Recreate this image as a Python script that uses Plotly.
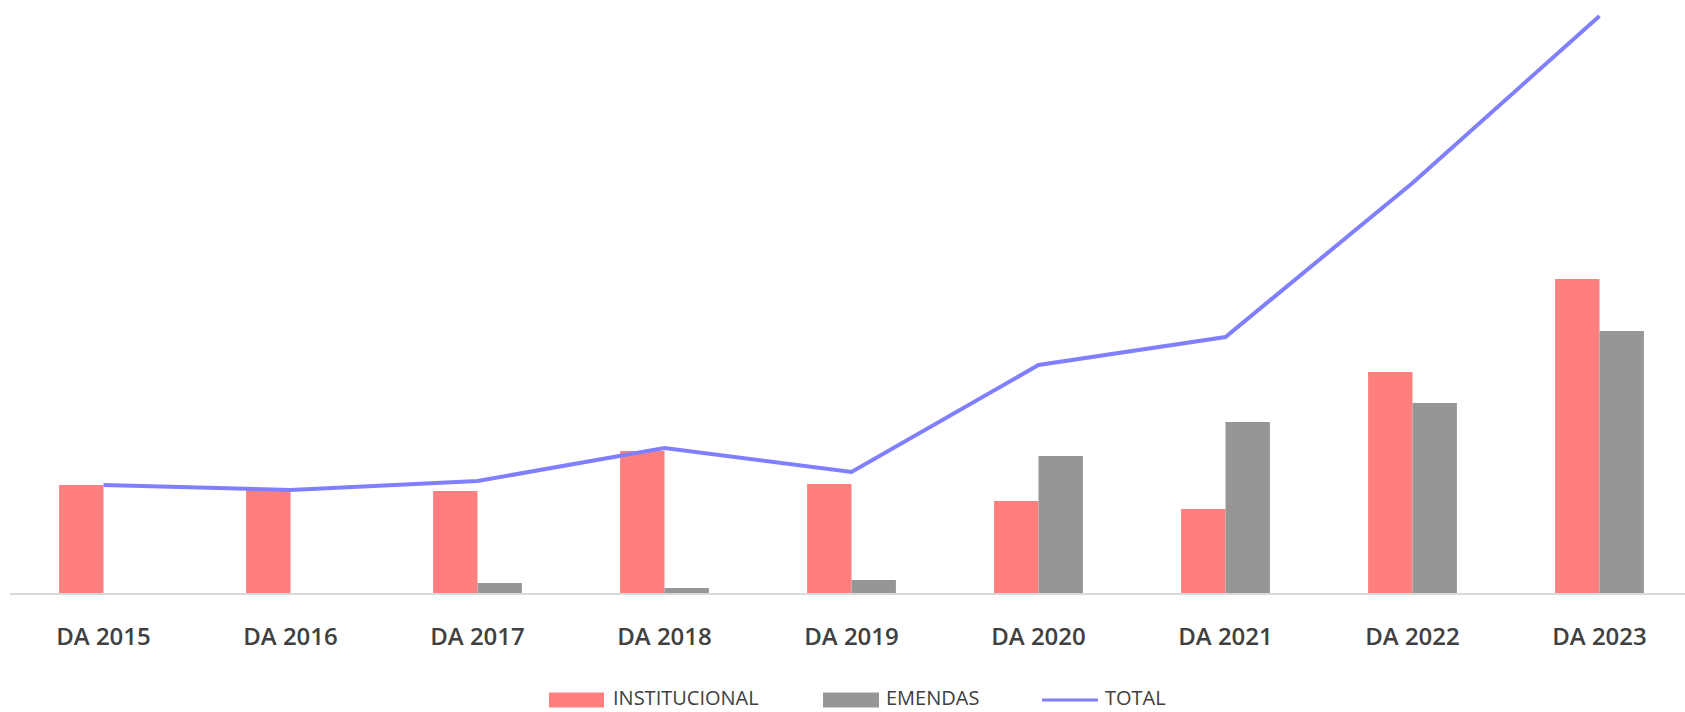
import plotly.graph_objects as go

# ---- data ----
categories = ["DA 2015", "DA 2016", "DA 2017", "DA 2018", "DA 2019",
              "DA 2020", "DA 2021", "DA 2022", "DA 2023"]
institucional = [108, 103, 102, 142, 109, 92, 84, 221, 314]
emendas = [0, 0, 10, 5, 13, 137, 171, 190, 262]
total = [108, 103, 112, 145, 121, 228, 256, 410, 577]
series_names = ["INSTITUCIONAL", "EMENDAS", "TOTAL"]

# ---- style ----
PINK = "#FF7F7F"
GRAY = "#969696"
BLUE = "#7F7FFF"
TEXT = "#404040"

W, H = 1685, 712
ML, MR, MT, MB = 10, 0, 13, 119
plot_w = W - ML - MR
plot_h = H - MT - MB
cat_step = 187.0

fig = go.Figure()
fig.add_trace(go.Bar(x=categories, y=institucional, name=series_names[0],
                     marker=dict(color=PINK, line=dict(width=0)),
                     showlegend=False))
fig.add_trace(go.Bar(x=categories, y=emendas, name=series_names[1],
                     marker=dict(color=GRAY, line=dict(width=0)),
                     showlegend=False))
fig.add_trace(go.Scatter(x=categories, y=total, name=series_names[2], mode="lines",
                         line=dict(color=BLUE, width=4), showlegend=False))

fig.update_layout(
    width=W, height=H,
    margin=dict(l=ML, r=MR, t=MT, b=MB, pad=0),
    paper_bgcolor="white", plot_bgcolor="white",
    barmode="group", bargap=0.525, bargroupgap=0,
    font=dict(family="Open Sans", color=TEXT),
    xaxis=dict(range=[-0.5, -0.5 + plot_w / cat_step], showgrid=False,
               showline=True, linecolor="#D9D9D9", linewidth=1.5,
               ticks="", ticklabelstandoff=21,
               tickfont=dict(family="Open Sans", size=24, color=TEXT, weight=600)),
    yaxis=dict(range=[0, plot_h], visible=False, showgrid=False, zeroline=False),
)

# ---- legend drawn below the plot ----
def px_x(px):
    return (px - ML) / plot_w

def px_y(py):
    return (H - MB - py) / plot_h

sw_y = 700
txt_y = 697
items = [
    ("rect", PINK, 549, 604, 612, series_names[0]),
    ("rect", GRAY, 823, 879, 885, series_names[1]),
    ("line", BLUE, 1042, 1098, 1104, series_names[2]),
]
for kind, col, x0, x1, tx, label in items:
    if kind == "rect":
        fig.add_shape(type="rect", xref="paper", yref="paper",
                      x0=px_x(x0), x1=px_x(x1), y0=px_y(sw_y + 7.5), y1=px_y(sw_y - 7.5),
                      fillcolor=col, line=dict(width=0), layer="above")
    else:
        fig.add_shape(type="line", xref="paper", yref="paper",
                      x0=px_x(x0), x1=px_x(x1), y0=px_y(sw_y), y1=px_y(sw_y),
                      line=dict(color=col, width=3), layer="above")
    fig.add_annotation(xref="paper", yref="paper", x=px_x(tx), y=px_y(txt_y),
                       xanchor="left", yanchor="middle", text=label, showarrow=False,
                       borderpad=0,
                       font=dict(family="Open Sans", size=20, color=TEXT))

fig.write_html("out.html", config={"displayModeBar": False},
               post_script="document.body.style.margin='0px';document.body.style.overflow='hidden';")
